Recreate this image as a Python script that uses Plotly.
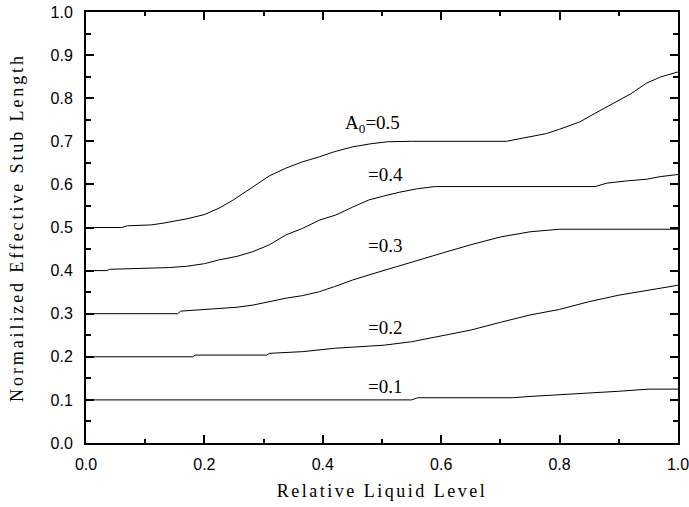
import plotly.graph_objects as go

# ---- data ----
x_a05 = [0, 0.06, 0.07, 0.11, 0.13, 0.17, 0.20, 0.225, 0.25, 0.282, 0.31, 0.338, 0.365, 0.394, 0.42, 0.45,
         0.48, 0.51, 0.55, 0.71, 0.74, 0.778, 0.80, 0.834, 0.86, 0.891, 0.92, 0.947, 0.97, 1.0]
y_a05 = [0.5, 0.5, 0.504, 0.506, 0.51, 0.52, 0.53, 0.545, 0.565, 0.595, 0.62, 0.638, 0.652, 0.664, 0.676, 0.687,
         0.694, 0.699, 0.70, 0.70, 0.708, 0.718, 0.728, 0.745, 0.765, 0.788, 0.81, 0.835, 0.849, 0.861]

x_a04 = [0, 0.035, 0.04, 0.14, 0.17, 0.2, 0.225, 0.255, 0.282, 0.31, 0.338, 0.366, 0.394, 0.422, 0.45, 0.478,
         0.503, 0.53, 0.56, 0.59, 0.86, 0.88, 0.913, 0.947, 0.97, 1.0]
y_a04 = [0.4, 0.4, 0.403, 0.407, 0.41, 0.416, 0.425, 0.433, 0.444, 0.46, 0.483, 0.498, 0.517, 0.529, 0.547, 0.564,
         0.573, 0.582, 0.59, 0.595, 0.595, 0.603, 0.608, 0.612, 0.618, 0.623]

x_a03 = [0, 0.155, 0.16, 0.225, 0.255, 0.282, 0.31, 0.338, 0.366, 0.394, 0.42, 0.45, 0.478, 0.504, 0.55, 0.6,
         0.65, 0.7, 0.75, 0.8, 1.0]
y_a03 = [0.3, 0.3, 0.306, 0.311, 0.315, 0.32, 0.328, 0.336, 0.342, 0.351, 0.363, 0.378, 0.39, 0.401, 0.42, 0.44,
         0.46, 0.478, 0.49, 0.496, 0.496]

x_a02 = [0, 0.18, 0.185, 0.305, 0.31, 0.366, 0.422, 0.478, 0.504, 0.55, 0.6, 0.65, 0.7, 0.75, 0.8, 0.85,
         0.9, 0.95, 1.0]
y_a02 = [0.2, 0.2, 0.204, 0.204, 0.208, 0.212, 0.22, 0.225, 0.227, 0.235, 0.248, 0.262, 0.28, 0.297, 0.31, 0.328,
         0.343, 0.355, 0.366]

x_a01 = [0, 0.55, 0.56, 0.72, 0.75, 0.8, 0.85, 0.9, 0.95, 1.0]
y_a01 = [0.1, 0.1, 0.105, 0.105, 0.108, 0.112, 0.115, 0.12, 0.125, 0.125]

label_text = ["A<sub>0</sub>=0.5", "=0.4", "=0.3", "=0.2", "=0.1"]
label_x = [0.434, 0.473, 0.473, 0.473, 0.473]
label_y = [0.740, 0.624, 0.459, 0.269, 0.132]

x_title = "Relative Liquid Level"
y_title = "Normailized Effective Stub Length"

SERIF = "Liberation Serif"
SPACED_X = "font-family:'Liberation Serif';font-size:18px;letter-spacing:2.5px"
SPACED_Y = "font-family:'Liberation Serif';font-size:18px;letter-spacing:2.9px"

fig = go.Figure()
for xs, ys in [(x_a05, y_a05), (x_a04, y_a04), (x_a03, y_a03), (x_a02, y_a02), (x_a01, y_a01)]:
    fig.add_trace(go.Scatter(x=xs, y=ys, mode="lines", line=dict(color="black", width=1), showlegend=False))

for t, lx, ly in zip(label_text, label_x, label_y):
    fig.add_annotation(x=lx, y=ly, text=t, showarrow=False, xanchor="left", yanchor="middle",
                       font=dict(family=SERIF, size=19, color="black"))

axis_common = dict(
    range=[0, 1], showgrid=False, zeroline=False, showline=True, linecolor="black", linewidth=2,
    mirror="allticks", ticks="inside", ticklen=8, tickwidth=2, tickcolor="black", automargin=False,
    ticklabeloverflow="allow",
    tickformat=".1f", tickfont=dict(family="Liberation Sans", size=16, color="black"),
)

fig.update_xaxes(**axis_common, dtick=0.2, tick0=0,
                 minor=dict(dtick=0.1, ticks="inside", ticklen=4, tickwidth=2, tickcolor="black"),
                 ticklabelstandoff=6,
                 title=dict(text=f'<span style="{SPACED_X}">{x_title}</span>',
                            font=dict(family=SERIF, size=18, color="black"), standoff=12))
fig.update_yaxes(**axis_common, dtick=0.1, tick0=0,
                 minor=dict(dtick=0.05, ticks="inside", ticklen=5, tickwidth=2, tickcolor="black"),
                 ticklabelstandoff=8,
                 title=dict(text=f'<span style="{SPACED_Y}">{y_title}</span>',
                            font=dict(family=SERIF, size=18, color="black"), standoff=22))

fig.update_layout(
    width=689, height=507, margin=dict(l=86, r=11, t=12, b=64),
    paper_bgcolor="white", plot_bgcolor="white",
)

fig.write_html("out.html")
